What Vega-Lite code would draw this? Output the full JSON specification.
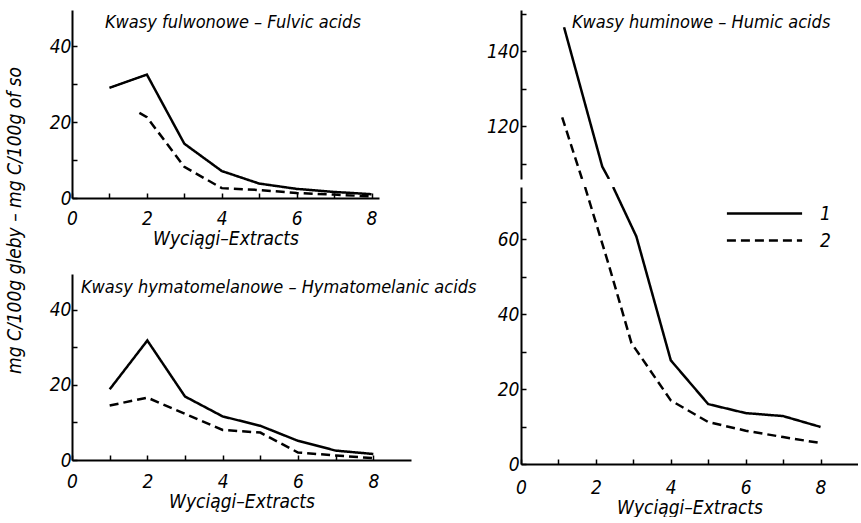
{
  "$schema": "https://vega.github.io/schema/vega-lite/v6.json",
  "background": "white",
  "padding": {"left": 6, "top": 4, "right": 0, "bottom": 0},
  "config": {
    "font": "Liberation Sans Narrow, DejaVu Sans Condensed, sans-serif",
    "view": {"stroke": null},
    "axis": {
      "domainColor": "black", "domainWidth": 2, "tickColor": "black", "tickWidth": 1.5, "tickSize": -5,
      "labelFont": "Liberation Sans Narrow, DejaVu Sans Condensed, sans-serif", "labelFontStyle": "italic", "labelFontSize": 19, "labelColor": "black",
      "labelFlush": false, "labelOverlap": false,
      "titleFont": "Liberation Sans Narrow, DejaVu Sans Condensed, sans-serif", "titleFontStyle": "italic", "titleFontWeight": "normal", "titleFontSize": 19, "titleColor": "black",
      "grid": false
    },
    "title": {"font": "Liberation Sans Narrow, DejaVu Sans Condensed, sans-serif", "fontStyle": "italic", "fontWeight": "normal", "fontSize": 18, "color": "black"},
    "line": {"color": "black", "strokeWidth": 2.5}
  },
  "datasets": {
    "d": [
      {"panel": "fulvic", "series": "1", "x": 1, "y": 29},
      {"panel": "fulvic", "series": "1", "x": 2, "y": 32.5},
      {"panel": "fulvic", "series": "1", "x": 3, "y": 14.3},
      {"panel": "fulvic", "series": "1", "x": 4, "y": 7.1},
      {"panel": "fulvic", "series": "1", "x": 5, "y": 3.8},
      {"panel": "fulvic", "series": "1", "x": 6, "y": 2.4},
      {"panel": "fulvic", "series": "1", "x": 7, "y": 1.6},
      {"panel": "fulvic", "series": "1", "x": 8, "y": 1.0},
      {"panel": "fulvic", "series": "2", "x": 1.8, "y": 22.4},
      {"panel": "fulvic", "series": "2", "x": 2, "y": 21.3},
      {"panel": "fulvic", "series": "2", "x": 3, "y": 8.2},
      {"panel": "fulvic", "series": "2", "x": 4, "y": 2.6},
      {"panel": "fulvic", "series": "2", "x": 5, "y": 2.1},
      {"panel": "fulvic", "series": "2", "x": 6, "y": 1.3},
      {"panel": "fulvic", "series": "2", "x": 7, "y": 0.9},
      {"panel": "fulvic", "series": "2", "x": 8, "y": 0.4},
      {"panel": "hymato", "series": "1", "x": 1, "y": 18.8},
      {"panel": "hymato", "series": "1", "x": 2, "y": 31.8},
      {"panel": "hymato", "series": "1", "x": 3, "y": 16.9},
      {"panel": "hymato", "series": "1", "x": 4, "y": 11.6},
      {"panel": "hymato", "series": "1", "x": 5, "y": 9.1},
      {"panel": "hymato", "series": "1", "x": 6, "y": 5.1},
      {"panel": "hymato", "series": "1", "x": 7, "y": 2.5},
      {"panel": "hymato", "series": "1", "x": 8, "y": 1.6},
      {"panel": "hymato", "series": "2", "x": 1, "y": 14.5},
      {"panel": "hymato", "series": "2", "x": 2, "y": 16.6},
      {"panel": "hymato", "series": "2", "x": 3, "y": 12.3},
      {"panel": "hymato", "series": "2", "x": 4, "y": 8.0},
      {"panel": "hymato", "series": "2", "x": 5, "y": 7.3},
      {"panel": "hymato", "series": "2", "x": 6, "y": 2.0},
      {"panel": "hymato", "series": "2", "x": 7, "y": 1.2},
      {"panel": "hymato", "series": "2", "x": 8, "y": 0.5},
      {"panel": "humic_hi", "series": "1", "x": 1.15, "y": 146.4},
      {"panel": "humic_hi", "series": "1", "x": 2.17, "y": 109.3},
      {"panel": "humic_hi", "series": "1", "x": 2.35, "y": 106},
      {"panel": "humic_hi", "series": "2", "x": 1.1, "y": 122.4},
      {"panel": "humic_hi", "series": "2", "x": 1.63, "y": 106},
      {"panel": "humic_lo", "series": "1", "x": 2.46, "y": 74},
      {"panel": "humic_lo", "series": "1", "x": 3.08, "y": 60.8},
      {"panel": "humic_lo", "series": "1", "x": 4, "y": 27.7},
      {"panel": "humic_lo", "series": "1", "x": 5, "y": 16},
      {"panel": "humic_lo", "series": "1", "x": 6, "y": 13.6},
      {"panel": "humic_lo", "series": "1", "x": 7, "y": 12.8},
      {"panel": "humic_lo", "series": "1", "x": 8, "y": 9.9},
      {"panel": "humic_lo", "series": "2", "x": 1.71, "y": 74},
      {"panel": "humic_lo", "series": "2", "x": 2.35, "y": 53},
      {"panel": "humic_lo", "series": "2", "x": 2.95, "y": 32.3},
      {"panel": "humic_lo", "series": "2", "x": 4, "y": 17},
      {"panel": "humic_lo", "series": "2", "x": 5, "y": 11.2},
      {"panel": "humic_lo", "series": "2", "x": 6, "y": 8.9},
      {"panel": "humic_lo", "series": "2", "x": 7, "y": 7.2},
      {"panel": "humic_lo", "series": "2", "x": 8, "y": 5.6}
    ]
  },
  "resolve": {"scale": {"strokeDash": "independent"}, "legend": {"strokeDash": "independent"}},
  "spacing": 9,
  "hconcat": [
    {
      "title": {"text": "mg C/100g gleby – mg C/100g of so", "orient": "left", "anchor": "middle", "offset": 24, "dx": 40, "fontSize": 19},
      "resolve": {"scale": {"strokeDash": "independent"}, "legend": {"strokeDash": "independent"}},
      "spacing": 26,
      "vconcat": [
        {
          "width": 307, "height": 188,
          "title": {"text": "Kwasy fulwonowe – Fulvic acids", "orient": "top", "anchor": "start", "frame": "group", "offset": -22, "dx": 33},
          "data": {"name": "d"},
          "transform": [{"filter": "datum.panel == 'fulvic'"}],
          "mark": {"type": "line", "clip": true},
          "encoding": {
            "x": {"field": "x", "type": "quantitative", "scale": {"domain": [0, 8.2], "nice": false, "zero": false},
                  "axis": {"title": "Wyciągi–Extracts", "values": [0, 1, 2, 3, 4, 5, 6, 7, 8], "labelExpr": "datum.value % 2 == 0 ? datum.label : ''", "labelPadding": 16, "titlePadding": 1}},
            "y": {"field": "y", "type": "quantitative", "scale": {"domain": [0, 49.5], "nice": false, "zero": false},
                  "axis": {"title": null, "values": [0, 10, 20, 30, 40], "labelExpr": "datum.value % 20 == 0 ? datum.label : ''", "labelPadding": 6}},
            "strokeDash": {"field": "series", "type": "nominal", "scale": {"domain": ["1", "2"], "range": [[1, 0], [9, 5]]}, "legend": null}
          }
        },
        {
          "width": 339, "height": 186,
          "title": {"text": "Kwasy hymatomelanowe – Hymatomelanic acids", "orient": "top", "anchor": "start", "frame": "group", "offset": -23, "dx": 9},
          "data": {"name": "d"},
          "transform": [{"filter": "datum.panel == 'hymato'"}],
          "mark": {"type": "line", "clip": true},
          "encoding": {
            "x": {"field": "x", "type": "quantitative", "scale": {"domain": [0, 9], "nice": false, "zero": false},
                  "axis": {"title": "Wyciągi–Extracts", "values": [0, 1, 2, 3, 4, 5, 6, 7, 8], "labelExpr": "datum.value % 2 == 0 ? datum.label : ''", "labelPadding": 17, "titlePadding": 1}},
            "y": {"field": "y", "type": "quantitative", "scale": {"domain": [0, 49.5], "nice": false, "zero": false},
                  "axis": {"title": null, "values": [0, 10, 20, 30, 40], "labelExpr": "datum.value % 20 == 0 ? datum.label : ''", "labelPadding": 6}},
            "strokeDash": {"field": "series", "type": "nominal", "scale": {"domain": ["1", "2"], "range": [[1, 0], [9, 5]]}, "legend": null}
          }
        }
      ]
    },
    {
      "resolve": {"scale": {"strokeDash": "independent"}, "legend": {"strokeDash": "independent"}},
      "spacing": 8,
      "vconcat": [
        {
          "width": 337, "height": 169,
          "title": {"text": "Kwasy huminowe – Humic acids", "orient": "top", "anchor": "start", "frame": "group", "offset": -27, "dx": 51},
          "data": {"name": "d"},
          "transform": [{"filter": "datum.panel == 'humic_hi'"}],
          "mark": {"type": "line", "clip": true},
          "encoding": {
            "x": {"field": "x", "type": "quantitative", "scale": {"domain": [0, 9], "nice": false, "zero": false}, "axis": null},
            "y": {"field": "y", "type": "quantitative", "scale": {"domain": [106, 151], "nice": false, "zero": false},
                  "axis": {"title": null, "values": [110, 120, 130, 140, 150], "labelExpr": "datum.value % 20 == 0 ? datum.label : ''", "labelPadding": 7}},
            "strokeDash": {"field": "series", "type": "nominal", "scale": {"domain": ["1", "2"], "range": [[1, 0], [9, 5]]}, "legend": null}
          }
        },
        {
          "width": 337, "height": 277,
          "data": {"name": "d"},
          "transform": [{"filter": "datum.panel == 'humic_lo'"}],
          "mark": {"type": "line", "clip": true},
          "encoding": {
            "x": {"field": "x", "type": "quantitative", "scale": {"domain": [0, 9], "nice": false, "zero": false},
                  "axis": {"title": "Wyciągi–Extracts", "values": [0, 1, 2, 3, 4, 5, 6, 7, 8], "labelExpr": "datum.value % 2 == 0 ? datum.label : ''", "labelPadding": 19, "titlePadding": 1}},
            "y": {"field": "y", "type": "quantitative", "scale": {"domain": [0, 74], "nice": false, "zero": false},
                  "axis": {"title": null, "values": [0, 10, 20, 30, 40, 50, 60, 70], "labelExpr": "datum.value % 20 == 0 ? datum.label : ''", "labelPadding": 7}},
            "strokeDash": {"field": "series", "type": "nominal", "scale": {"domain": ["1", "2"], "range": [[1, 0], [9, 5]]},
                           "legend": {"orient": "none", "legendX": 234, "legendY": 17, "title": null, "symbolType": "M-6,0H6", "symbolSize": 157, "symbolStrokeWidth": 2.5, "symbolStrokeColor": "black", "labelFont": "Liberation Sans Narrow, DejaVu Sans Condensed, sans-serif", "labelFontStyle": "italic", "labelFontSize": 19, "labelColor": "black", "labelOffset": 46, "rowPadding": 7}}
          }
        }
      ]
    }
  ]
}
